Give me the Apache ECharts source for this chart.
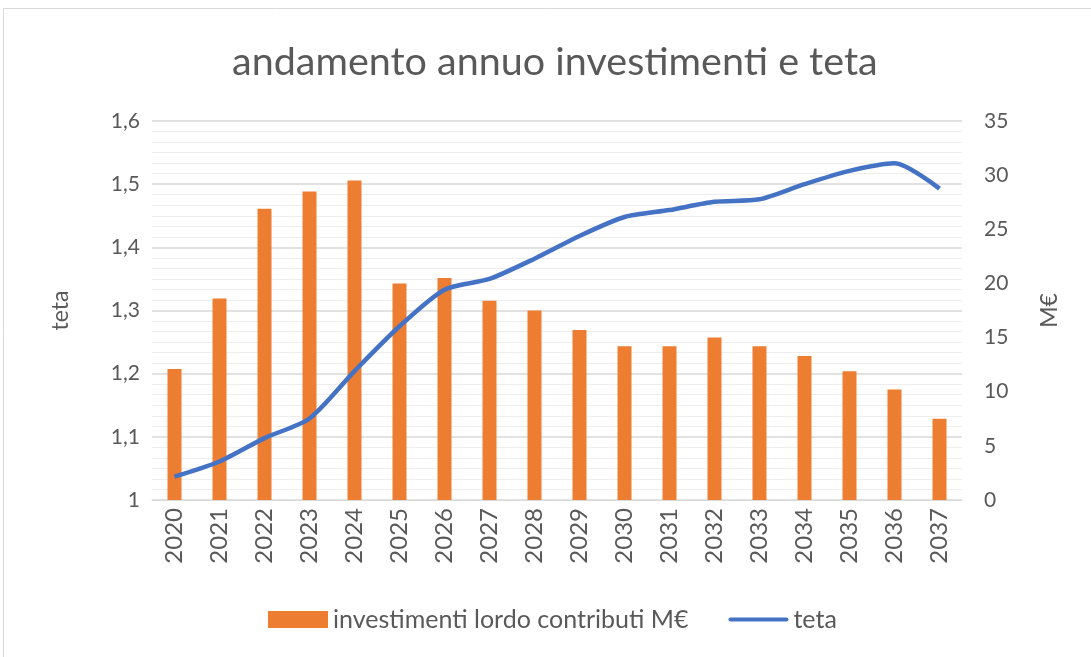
<!DOCTYPE html>
<html>
<head>
<meta charset="utf-8">
<script src="https://cdn.jsdelivr.net/npm/echarts@6/dist/echarts.min.js"></script>
<style>
  html, body { margin: 0; padding: 0; background: #fff; }
  #chart { width: 1091px; height: 657px; }
</style>
</head>
<body>
<div id="chart"></div>
<script>
var years = ['2020', '2021', '2022', '2023', '2024', '2025', '2026', '2027', '2028',
  '2029', '2030', '2031', '2032', '2033', '2034', '2035', '2036', '2037'];
var investimenti = [12.1, 18.6, 26.9, 28.5, 29.5, 20.0, 20.5, 18.4, 17.5,
  15.7, 14.2, 14.2, 15.0, 14.2, 13.3, 11.9, 10.2, 7.5];
var teta = [1.037, 1.061, 1.098, 1.129, 1.204, 1.275, 1.333, 1.350, 1.382,
  1.418, 1.448, 1.459, 1.472, 1.476, 1.500, 1.521, 1.533, 1.493];

var textColor = '#595959';
var font = 'Lato';

var fmtComma = function(v) {
  return String(Math.round(v * 100) / 100).replace('.', ',');
};

var myChart = echarts.init(document.getElementById('chart'));

var option = {
  backgroundColor: '#fff',
  animation: false,
  textStyle: { fontFamily: font, color: textColor },
  graphic: [{
    type: 'rect',
    shape: { x: 3.5, y: 8.5, width: 1100, height: 700 },
    style: { fill: 'none', stroke: '#d9d9d9', lineWidth: 1 },
    silent: true
  }],
  title: {
    text: 'andamento annuo investimenti e teta',
    left: 227,
    top: 37,
    textStyle: { fontFamily: font, fontSize: 39.5, fontWeight: 'normal', color: textColor }
  },
  legend: {
    bottom: 20,
    left: 263,
    itemWidth: 60,
    itemHeight: 17,
    itemGap: 40,
    textStyle: { fontFamily: font, fontSize: 25, color: textColor },
    data: [
      { name: 'investimenti lordo contributi M€', icon: 'rect' },
      { name: 'teta', icon: 'path://M2,0 L58,0 A2,2 0 0 1 58,4 L2,4 A2,2 0 0 1 2,0 Z' }
    ]
  },
  grid: { left: 152, right: 129, top: 121, bottom: 157 },
  xAxis: {
    type: 'category',
    data: years,
    axisTick: { show: false },
    axisLine: { show: true, lineStyle: { color: '#d9d9d9', width: 1 } },
    axisLabel: { rotate: 90, fontSize: 24, color: textColor, margin: 8, fontFamily: font }
  },
  yAxis: [{
    type: 'value',
    name: 'teta',
    nameLocation: 'middle',
    nameRotate: 90,
    nameGap: 80,
    nameTextStyle: { fontSize: 23, color: textColor, fontFamily: font },
    min: 1,
    max: 1.6,
    interval: 0.1,
    axisLine: { show: false },
    axisTick: { show: false },
    axisLabel: { fontSize: 21, color: textColor, margin: 12, formatter: fmtComma },
    splitLine: { lineStyle: { color: '#d9d9d9', width: 1.5 } },
    minorTick: { show: false, splitNumber: 6 },
    minorSplitLine: { show: true, lineStyle: { color: '#eeeeee', width: 1 } }
  }, {
    type: 'value',
    name: 'M€',
    nameLocation: 'middle',
    nameRotate: 90,
    nameGap: 76,
    nameTextStyle: { fontSize: 23, color: textColor, fontFamily: font },
    min: 0,
    max: 35,
    interval: 5,
    axisLine: { show: false },
    axisTick: { show: false },
    axisLabel: { fontSize: 21, color: textColor, margin: 22 },
    splitLine: { show: false }
  }],
  series: [{
    name: 'investimenti lordo contributi M€',
    type: 'bar',
    yAxisIndex: 1,
    data: investimenti,
    barWidth: 14,
    itemStyle: { color: '#ED7D31' }
  }, {
    name: 'teta',
    type: 'line',
    yAxisIndex: 0,
    data: teta,
    smooth: 0.25,
    symbol: 'none',
    lineStyle: { color: '#4472C4', width: 4.5 },
    itemStyle: { color: '#4472C4' }
  }]
};

if (option && typeof option === 'object') {
  myChart.setOption(option, true);
}
</script>
</body>
</html>
